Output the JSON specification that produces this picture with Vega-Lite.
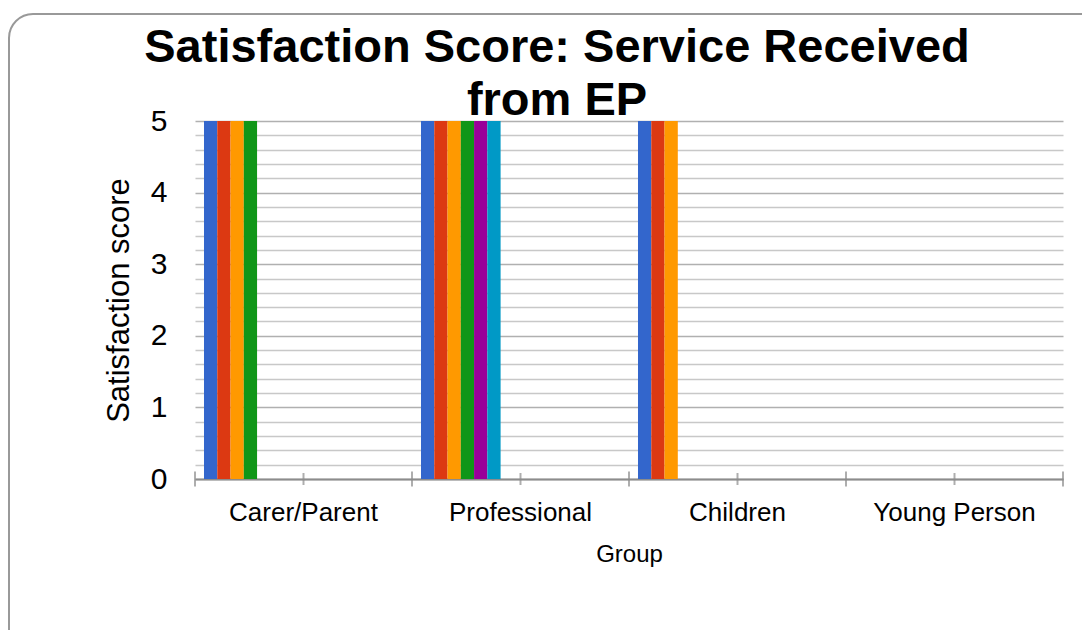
{
  "$schema": "https://vega.github.io/schema/vega-lite/v6.json",
  "width": 1096,
  "height": 640,
  "autosize": {"type": "none"},
  "padding": {"left": 9, "top": 14, "right": -23, "bottom": -24},
  "background": "white",
  "config": {
    "view": {"stroke": "#999999", "strokeWidth": 2, "cornerRadius": 24, "fill": "white"},
    "font": "Liberation Sans"
  },
  "title": {
    "text": ["Satisfaction Score: Service Received", "from EP"],
    "font": "Liberation Sans",
    "fontSize": 47,
    "fontWeight": "bold",
    "color": "#000000",
    "anchor": "middle",
    "frame": "group",
    "baseline": "alphabetic",
    "offset": -49,
    "dy": 99,
    "lineHeight": 53
  },
  "datasets": {
    "scores": [
      {"group": "Carer/Parent", "series": "Series 1", "score": 5},
      {"group": "Carer/Parent", "series": "Series 2", "score": 5},
      {"group": "Carer/Parent", "series": "Series 3", "score": 5},
      {"group": "Carer/Parent", "series": "Series 4", "score": 5},
      {"group": "Professional", "series": "Series 1", "score": 5},
      {"group": "Professional", "series": "Series 2", "score": 5},
      {"group": "Professional", "series": "Series 3", "score": 5},
      {"group": "Professional", "series": "Series 4", "score": 5},
      {"group": "Professional", "series": "Series 5", "score": 5},
      {"group": "Professional", "series": "Series 6", "score": 5},
      {"group": "Children", "series": "Series 1", "score": 5},
      {"group": "Children", "series": "Series 2", "score": 5},
      {"group": "Children", "series": "Series 3", "score": 5}
    ],
    "groups": [
      {"group": "Carer/Parent"},
      {"group": "Professional"},
      {"group": "Children"},
      {"group": "Young Person"}
    ]
  },
  "layer": [
    {
      "data": {"name": "scores"},
      "mark": {"type": "bar"},
      "encoding": {
        "x": {
          "field": "group",
          "type": "nominal",
          "sort": ["Carer/Parent", "Professional", "Children", "Young Person"],
          "scale": {
            "domain": ["Carer/Parent", "Professional", "Children", "Young Person"],
            "range": [186, 1054],
            "paddingInner": 0,
            "paddingOuter": 0
          },
          "axis": {
            "offset": -175,
            "ticks": false,
            "domainColor": "#8c8c8c",
            "domainWidth": 2,
            "labelAngle": 0,
            "labelFont": "Liberation Sans",
            "labelFontSize": 26,
            "labelColor": "#000000",
            "labelPadding": 20,
            "title": "Group",
            "titleFont": "Liberation Sans",
            "titleFontSize": 24,
            "titleFontWeight": "normal",
            "titleColor": "#000000",
            "titlePadding": 17,
            "grid": false
          }
        },
        "xOffset": {
          "field": "series",
          "type": "nominal",
          "scale": {
            "domain": ["Series 1", "Series 2", "Series 3", "Series 4", "Series 5", "Series 6", "Series 7", "Series 8", "Series 9", "Series 10", "Series 11", "Series 12", "Series 13", "Series 14", "Series 15"],
            "paddingInner": 0,
            "paddingOuter": 0.678
          }
        },
        "y": {
          "field": "score",
          "type": "quantitative",
          "scale": {"domain": [0, 5], "range": [465, 107], "nice": false, "zero": true},
          "axis": {
            "values": [0, 0.2, 0.4, 0.6, 0.8, 1, 1.2, 1.4, 1.6, 1.8, 2, 2.2, 2.4, 2.6, 2.8, 3, 3.2, 3.4, 3.6, 3.8, 4, 4.2, 4.4, 4.6, 4.8, 5],
            "labelExpr": "abs(datum.value - round(datum.value)) < 0.01 ? format(datum.value, 'd') : ''",
            "offset": -186,
            "domain": false,
            "ticks": false,
            "labelPadding": 28,
            "labelFont": "Liberation Sans",
            "labelFontSize": 30,
            "labelColor": "#000000",
            "labelOverlap": false,
            "labelFlush": false,
            "title": "Satisfaction score",
            "titleFont": "Liberation Sans",
            "titleFontSize": 31,
            "titleFontWeight": "normal",
            "titleColor": "#000000",
            "titlePadding": 15,
            "grid": true,
            "gridColor": {
              "condition": {"test": "abs(datum.value - round(datum.value)) < 0.01", "value": "#b0b0b0"},
              "value": "#c8c8c8"
            },
            "gridWidth": 1.6,
            "gridOpacity": 1
          }
        },
        "color": {
          "field": "series",
          "type": "nominal",
          "scale": {
            "domain": ["Series 1", "Series 2", "Series 3", "Series 4", "Series 5", "Series 6", "Series 7", "Series 8", "Series 9", "Series 10", "Series 11", "Series 12", "Series 13", "Series 14", "Series 15"],
            "range": ["#3366CC", "#DC3912", "#FF9900", "#109618", "#990099", "#0099C6", "#DD4477", "#66AA00", "#B82E2E", "#316395", "#994499", "#22AA99", "#AAAA11", "#6633CC", "#E67300"]
          },
          "legend": null
        }
      }
    },
    {
      "data": {"name": "groups"},
      "mark": {"type": "tick", "orient": "vertical", "size": 15, "thickness": 2, "color": "#8c8c8c"},
      "encoding": {
        "x": {"field": "group", "type": "nominal", "bandPosition": 0},
        "y": {
          "datum": 0,
          "type": "quantitative",
          "axis": {
            "values": [0, 0.2, 0.4, 0.6, 0.8, 1, 1.2, 1.4, 1.6, 1.8, 2, 2.2, 2.4, 2.6, 2.8, 3, 3.2, 3.4, 3.6, 3.8, 4, 4.2, 4.4, 4.6, 4.8, 5],
            "labelExpr": "abs(datum.value - round(datum.value)) < 0.01 ? format(datum.value, 'd') : ''",
            "offset": -186,
            "domain": false,
            "ticks": false,
            "labelPadding": 28,
            "labelFont": "Liberation Sans",
            "labelFontSize": 30,
            "labelColor": "#000000",
            "labelOverlap": false,
            "labelFlush": false,
            "title": "Satisfaction score",
            "titleFont": "Liberation Sans",
            "titleFontSize": 31,
            "titleFontWeight": "normal",
            "titleColor": "#000000",
            "titlePadding": 15,
            "grid": true,
            "gridColor": {
              "condition": {"test": "abs(datum.value - round(datum.value)) < 0.01", "value": "#b0b0b0"},
              "value": "#c8c8c8"
            },
            "gridWidth": 1.6,
            "gridOpacity": 1
          }
        }
      }
    },
    {
      "data": {"name": "groups"},
      "mark": {"type": "tick", "orient": "vertical", "size": 12, "thickness": 2, "color": "#8c8c8c"},
      "encoding": {
        "x": {"field": "group", "type": "nominal", "bandPosition": 0.5},
        "y": {
          "datum": 0,
          "type": "quantitative",
          "axis": {
            "values": [0, 0.2, 0.4, 0.6, 0.8, 1, 1.2, 1.4, 1.6, 1.8, 2, 2.2, 2.4, 2.6, 2.8, 3, 3.2, 3.4, 3.6, 3.8, 4, 4.2, 4.4, 4.6, 4.8, 5],
            "labelExpr": "abs(datum.value - round(datum.value)) < 0.01 ? format(datum.value, 'd') : ''",
            "offset": -186,
            "domain": false,
            "ticks": false,
            "labelPadding": 28,
            "labelFont": "Liberation Sans",
            "labelFontSize": 30,
            "labelColor": "#000000",
            "labelOverlap": false,
            "labelFlush": false,
            "title": "Satisfaction score",
            "titleFont": "Liberation Sans",
            "titleFontSize": 31,
            "titleFontWeight": "normal",
            "titleColor": "#000000",
            "titlePadding": 15,
            "grid": true,
            "gridColor": {
              "condition": {"test": "abs(datum.value - round(datum.value)) < 0.01", "value": "#b0b0b0"},
              "value": "#c8c8c8"
            },
            "gridWidth": 1.6,
            "gridOpacity": 1
          }
        }
      }
    },
    {
      "data": {"name": "groups"},
      "transform": [{"filter": "datum.group === 'Young Person'"}],
      "mark": {"type": "tick", "orient": "vertical", "size": 15, "thickness": 2, "color": "#8c8c8c"},
      "encoding": {
        "x": {"field": "group", "type": "nominal", "bandPosition": 1},
        "y": {
          "datum": 0,
          "type": "quantitative",
          "axis": {
            "values": [0, 0.2, 0.4, 0.6, 0.8, 1, 1.2, 1.4, 1.6, 1.8, 2, 2.2, 2.4, 2.6, 2.8, 3, 3.2, 3.4, 3.6, 3.8, 4, 4.2, 4.4, 4.6, 4.8, 5],
            "labelExpr": "abs(datum.value - round(datum.value)) < 0.01 ? format(datum.value, 'd') : ''",
            "offset": -186,
            "domain": false,
            "ticks": false,
            "labelPadding": 28,
            "labelFont": "Liberation Sans",
            "labelFontSize": 30,
            "labelColor": "#000000",
            "labelOverlap": false,
            "labelFlush": false,
            "title": "Satisfaction score",
            "titleFont": "Liberation Sans",
            "titleFontSize": 31,
            "titleFontWeight": "normal",
            "titleColor": "#000000",
            "titlePadding": 15,
            "grid": true,
            "gridColor": {
              "condition": {"test": "abs(datum.value - round(datum.value)) < 0.01", "value": "#b0b0b0"},
              "value": "#c8c8c8"
            },
            "gridWidth": 1.6,
            "gridOpacity": 1
          }
        }
      }
    }
  ]
}
